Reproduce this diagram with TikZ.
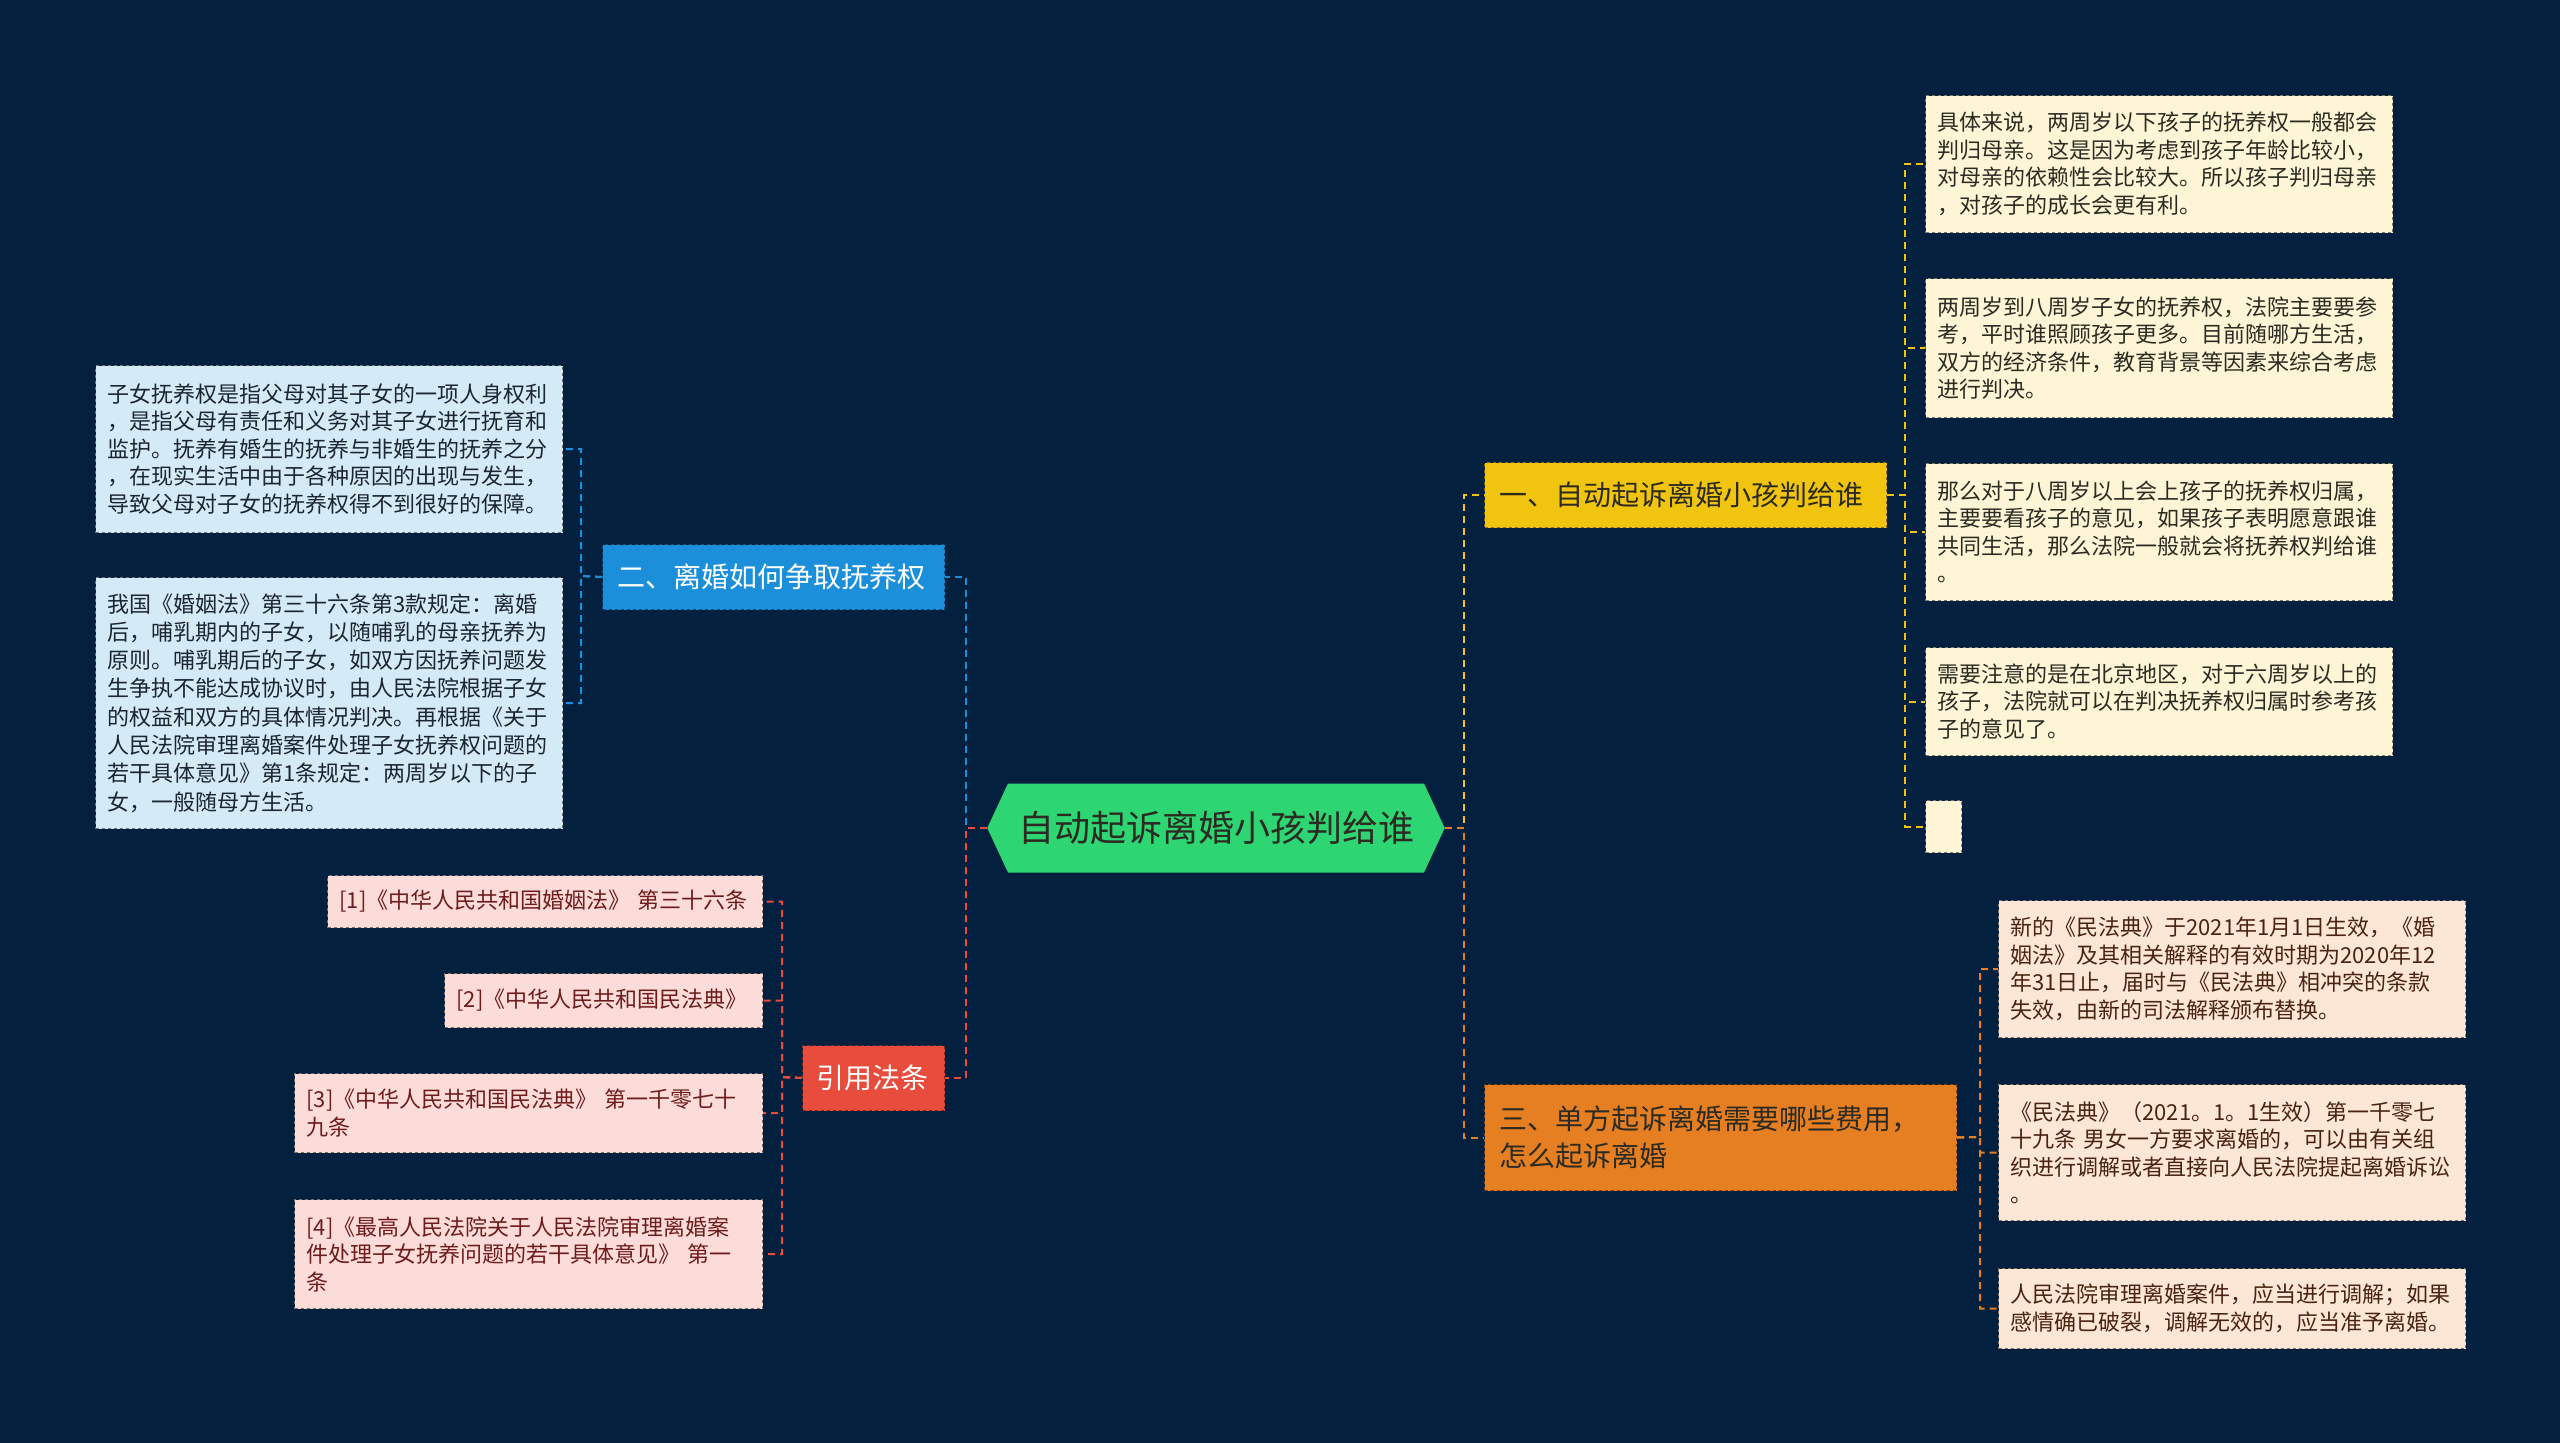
\documentclass[tikz,border=0pt]{standalone}
\usepackage{fontspec}
\setmainfont{Noto Sans CJK SC}
\usetikzlibrary{shapes.symbols, positioning}
\definecolor{bgnavy}{HTML}{03213F}
\definecolor{rootgreen}{HTML}{2ED573}
\definecolor{topicyellow}{HTML}{F1C40F}
\definecolor{topicblue}{HTML}{1C8FDA}
\definecolor{topicorange}{HTML}{E67E22}
\definecolor{topicred}{HTML}{E74C3C}
\definecolor{leafcream}{HTML}{FDF5D6}
\definecolor{leafpeach}{HTML}{FCE6D5}
\definecolor{leafsky}{HTML}{D5EAF7}
\definecolor{leafpink}{HTML}{FBDCD9}
\definecolor{inkdark}{HTML}{2B2B22}
\definecolor{inkbrown}{HTML}{4A2412}
\definecolor{inknavy}{HTML}{1B2631}
\definecolor{inkred}{HTML}{6E1C1C}

\begin{document}
\begin{tikzpicture}[x=1pt, y=-1pt,
        root/.style={signal, signal to=east and west, signal pointer angle=130, fill=rootgreen, text=inkdark, font=\fontsize{36}{42}\selectfont, minimum height=89pt, inner xsep=10pt},
        topic/.style={rectangle, draw, dashed, line width=1pt, anchor=north west, align=left, inner xsep=15pt, font=\fontsize{28}{37}\selectfont},
        note/.style={rectangle, draw, dashed, line width=1pt, anchor=north west, align=left, inner xsep=12pt, inner ysep=3pt, font=\fontsize{22}{27.5}\selectfont},
        link/.style={draw, dash pattern=on 7pt off 5pt, line width=2pt}]
    \fill[bgnavy] (0,0) rectangle (2560,1443);
    \useasboundingbox (0,0) rectangle (2560,1443);

    % centre
    \node [root] (root) at (1216,828) {自动起诉离婚小孩判给谁};

    % main topics
    \node [topic, fill=topicyellow, draw=topicyellow!55!black, text=inkdark, minimum width=402pt, minimum height=65pt, text width=372pt] (custody) at (1484,462) {一、自动起诉离婚小孩判给谁};
    \node [topic, fill=topicblue, draw=topicblue!55!black, text=white, minimum width=342pt, minimum height=65pt, text width=312pt] (fight) at (602,544) {二、离婚如何争取抚养权};
    \node [topic, fill=topicorange, draw=topicorange!55!black, text=inkdark, minimum width=472pt, minimum height=106pt, text width=442pt] (fees) at (1484,1084) {三、单方起诉离婚需要哪些费用，\\怎么起诉离婚};
    \node [topic, fill=topicred, draw=topicred!55!black, text=white, inner xsep=14pt, minimum width=142pt, minimum height=65pt, text width=114pt] (laws) at (802,1045) {引用法条};

    % notes of topic one
    \node [note, fill=leafcream, draw=leafcream!50!black, text=inkdark, minimum height=137pt, text width=443pt] (age2) at (1925,95) {具体来说，两周岁以下孩子的抚养权一般都会\\判归母亲。这是因为考虑到孩子年龄比较小，\\对母亲的依赖性会比较大。所以孩子判归母亲\\，对孩子的成长会更有利。};
    \node [note, fill=leafcream, draw=leafcream!50!black, text=inkdark, minimum height=139pt, text width=443pt] (age8) at (1925,278) {两周岁到八周岁子女的抚养权，法院主要要参\\考，平时谁照顾孩子更多。目前随哪方生活，\\双方的经济条件，教育背景等因素来综合考虑\\进行判决。};
    \node [note, fill=leafcream, draw=leafcream!50!black, text=inkdark, minimum height=137pt, text width=443pt] (over8) at (1925,463) {那么对于八周岁以上会上孩子的抚养权归属，\\主要要看孩子的意见，如果孩子表明愿意跟谁\\共同生活，那么法院一般就会将抚养权判给谁\\。};
    \node [note, fill=leafcream, draw=leafcream!50!black, text=inkdark, minimum height=108pt, text width=443pt] (beijing) at (1925,647) {需要注意的是在北京地区，对于六周岁以上的\\孩子，法院就可以在判决抚养权归属时参考孩\\子的意见了。};
    \node [note, fill=leafcream, draw=leafcream!50!black, minimum height=52pt, text width=12pt] (blank) at (1925,800) {};

    % notes of topic three
    \node [note, fill=leafpeach, draw=leafpeach!50!black, text=inkbrown, minimum height=137pt, text width=443pt] (civil) at (1998,900) {新的《民法典》于2021年1月1日生效，《婚\\姻法》及其相关解释的有效时期为2020年12\\年31日止，届时与《民法典》相冲突的条款\\失效，由新的司法解释颁布替换。};
    \node [note, fill=leafpeach, draw=leafpeach!50!black, text=inkbrown, minimum height=136pt, text width=443pt] (art1079) at (1998,1084) {《民法典》（2021。1。1生效）第一千零七\\十九条 男女一方要求离婚的，可以由有关组\\织进行调解或者直接向人民法院提起离婚诉讼\\。};
    \node [note, fill=leafpeach, draw=leafpeach!50!black, text=inkbrown, minimum height=80pt, text width=443pt] (mediate) at (1998,1268) {人民法院审理离婚案件，应当进行调解；如果\\感情确已破裂，调解无效的，应当准予离婚。};

    % notes of topic two
    \node [note, fill=leafsky, draw=leafsky!50!black, text=inknavy, minimum height=167pt, text width=443pt] (define) at (95,365) {子女抚养权是指父母对其子女的一项人身权利\\，是指父母有责任和义务对其子女进行抚育和\\监护。抚养有婚生的抚养与非婚生的抚养之分\\，在现实生活中由于各种原因的出现与发生，\\导致父母对子女的抚养权得不到很好的保障。};
    \node [note, fill=leafsky, draw=leafsky!50!black, text=inknavy, minimum height=251pt, text width=443pt, font=\fontsize{22}{28.3}\selectfont] (art36) at (95,577) {我国《婚姻法》第三十六条第3款规定：离婚\\后，哺乳期内的子女，以随哺乳的母亲抚养为\\原则。哺乳期后的子女，如双方因抚养问题发\\生争执不能达成协议时，由人民法院根据子女\\的权益和双方的具体情况判决。再根据《关于\\人民法院审理离婚案件处理子女抚养权问题的\\若干具体意见》第1条规定：两周岁以下的子\\女，一般随母方生活。};

    % cited laws
    \node [note, fill=leafpink, draw=leafpink!50!black, text=inkred, minimum height=52pt, text width=411pt] (ref1) at (327,875) {[1]《中华人民共和国婚姻法》 第三十六条};
    \node [note, fill=leafpink, draw=leafpink!50!black, text=inkred, minimum height=54pt, text width=294pt] (ref2) at (444,973) {[2]《中华人民共和国民法典》};
    \node [note, fill=leafpink, draw=leafpink!50!black, text=inkred, minimum height=79pt, text width=444pt] (ref3) at (294,1073) {[3]《中华人民共和国民法典》 第一千零七十\\九条};
    \node [note, fill=leafpink, draw=leafpink!50!black, text=inkred, minimum height=109pt, text width=444pt] (ref4) at (294,1199) {[4]《最高人民法院关于人民法院审理离婚案\\件处理子女抚养问题的若干具体意见》 第一\\条};

    % connectors
    \coordinate (jl) at (966,828);
    \coordinate (jr) at (1464,828);
    \path [link, topicblue] (root.west) -- (jl) |- (fight.east);
    \path [link, topicred] (root.west) -- (jl) |- (laws.east);
    \path [link, topicyellow] (root.east) -- (jr) |- (custody.west);
    \path [link, topicorange] (root.east) -- (jr) |- (fees.west);

    \coordinate (j1) at (1905,495);
    \foreach \leaf in {age2, age8, over8, beijing, blank}
        \path [link, topicyellow] (custody.east) -- (j1) |- (\leaf.west);
    \coordinate (j3) at (1980,1137);
    \foreach \leaf in {civil, art1079, mediate}
        \path [link, topicorange] (fees.east) -- (j3) |- (\leaf.west);
    \coordinate (j2) at (581,576);
    \foreach \leaf in {define, art36}
        \path [link, topicblue] (fight.west) -- (j2) |- (\leaf.east);
    \coordinate (j4) at (782,1077);
    \foreach \leaf in {ref1, ref2, ref3, ref4}
        \path [link, topicred] (laws.west) -- (j4) |- (\leaf.east);

\end{tikzpicture}
\end{document}
